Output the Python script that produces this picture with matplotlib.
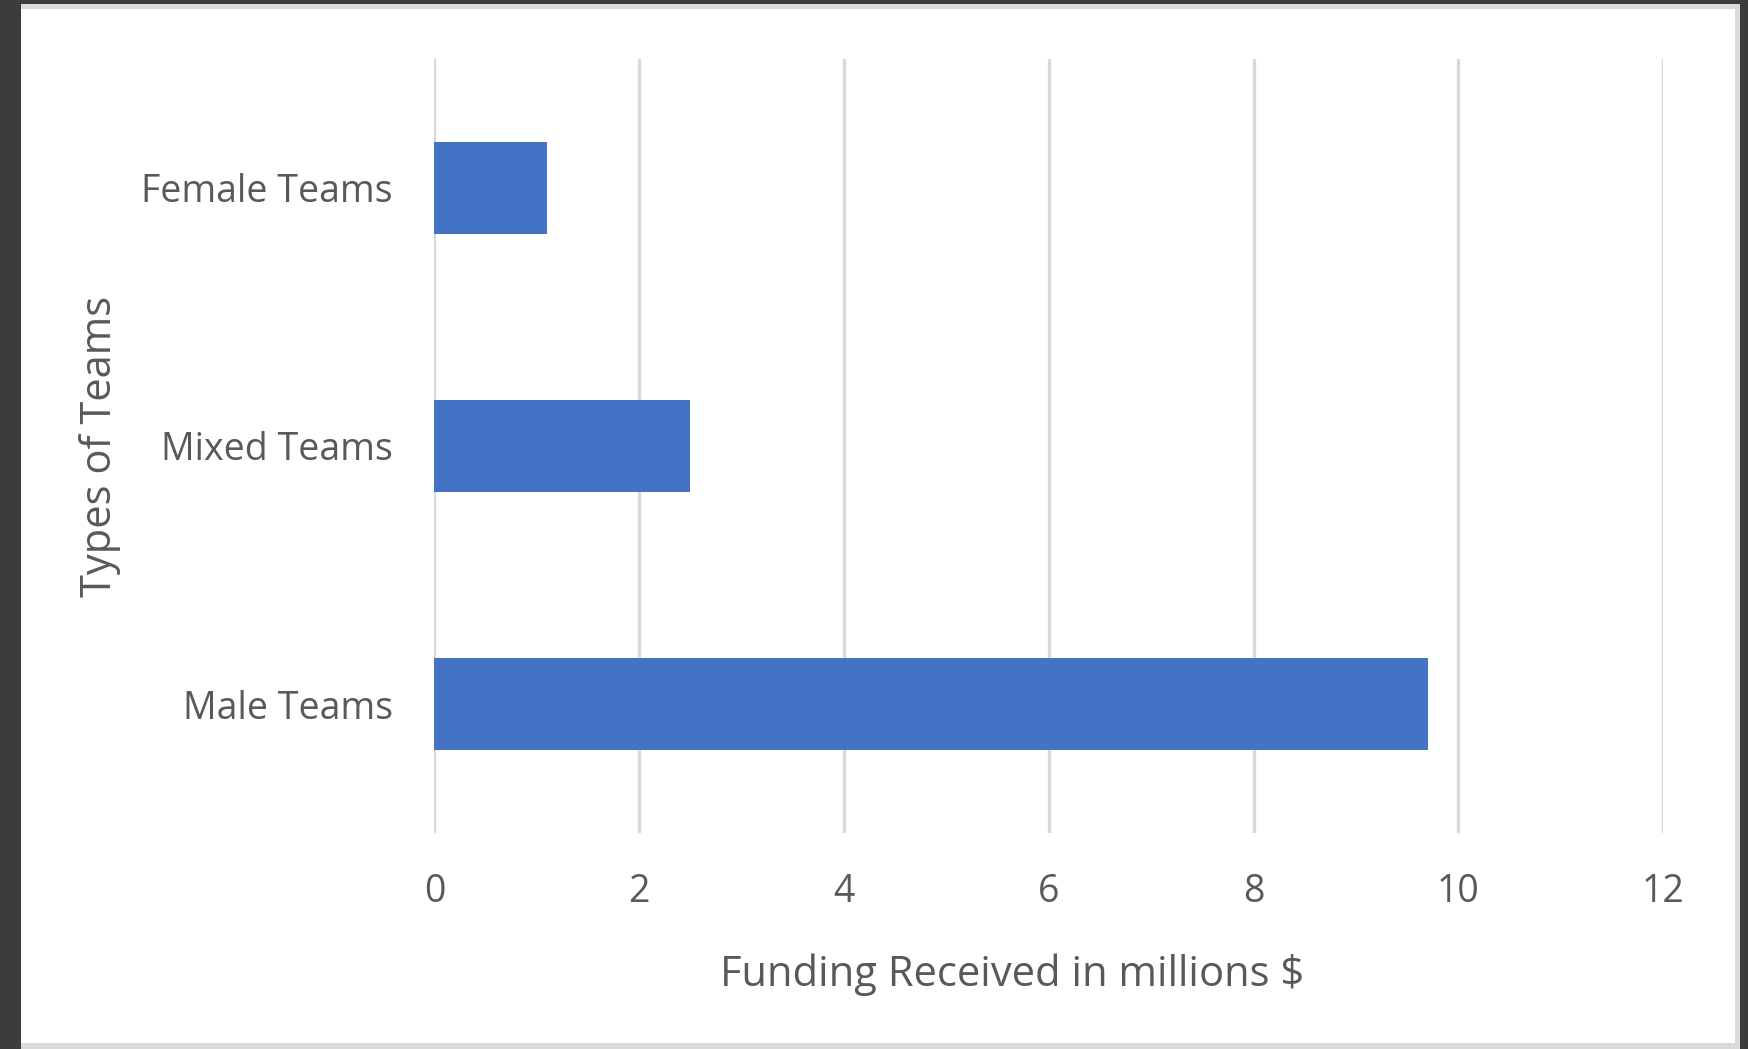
import matplotlib.pyplot as plt
from matplotlib.patches import Rectangle

# funding per team type, in millions of dollars (bottom to top)
teams = ["Male Teams", "Mixed Teams", "Female Teams"]
funding = [9.7, 2.5, 1.1]
x_ticks = [0, 2, 4, 6, 8, 10, 12]

bar_color = "#4472C4"
text_color = "#595959"
grid_color = "#D9D9D9"

plt.rcParams["font.family"] = ["Open Sans", "DejaVu Sans"]

fig = plt.figure(figsize=(17.48, 10.49), dpi=100)
fig.patch.set_facecolor("#3C3C3C")

# white chart area with a thin light grey edge
fig.patches.append(Rectangle((21 / 1748, 0), 1719 / 1748, 1045 / 1049,
                             transform=fig.transFigure, facecolor="#DADADA",
                             edgecolor="none", zorder=-2))
fig.patches.append(Rectangle((21 / 1748, 6 / 1049), 1714 / 1748, 1034 / 1049,
                             transform=fig.transFigure, facecolor="white",
                             edgecolor="none", zorder=-1))

ax = fig.add_axes([0.2485, 0.2059, 0.7030, 0.7379])
ax.set_facecolor("none")

ax.barh(range(len(teams)), funding, height=0.357, color=bar_color, zorder=3)

ax.set_xlim(0, 12)
ax.set_ylim(-0.5, 2.5)
ax.set_xticks(x_ticks)
ax.set_yticks(range(len(teams)))
ax.set_yticklabels(teams)

ax.grid(axis="x", color=grid_color, linewidth=2.4, zorder=0)
ax.set_axisbelow(True)
for s in ax.spines.values():
    s.set_visible(False)

ax.tick_params(axis="both", length=0, labelsize=27, labelcolor=text_color)
ax.tick_params(axis="y", pad=30)
ax.tick_params(axis="x", pad=29)

ax.set_xlabel("Funding Received in millions $", fontsize=30, color=text_color)
ax.set_ylabel("Types of Teams", fontsize=30, color=text_color)
ax.xaxis.set_label_coords(0.4705, -0.183)
ax.xaxis.label.set_va("center")
ax.yaxis.set_label_coords(-0.2719, 0.5)
ax.yaxis.label.set_va("center")

fig.savefig("out.png", dpi=100, facecolor=fig.get_facecolor())
